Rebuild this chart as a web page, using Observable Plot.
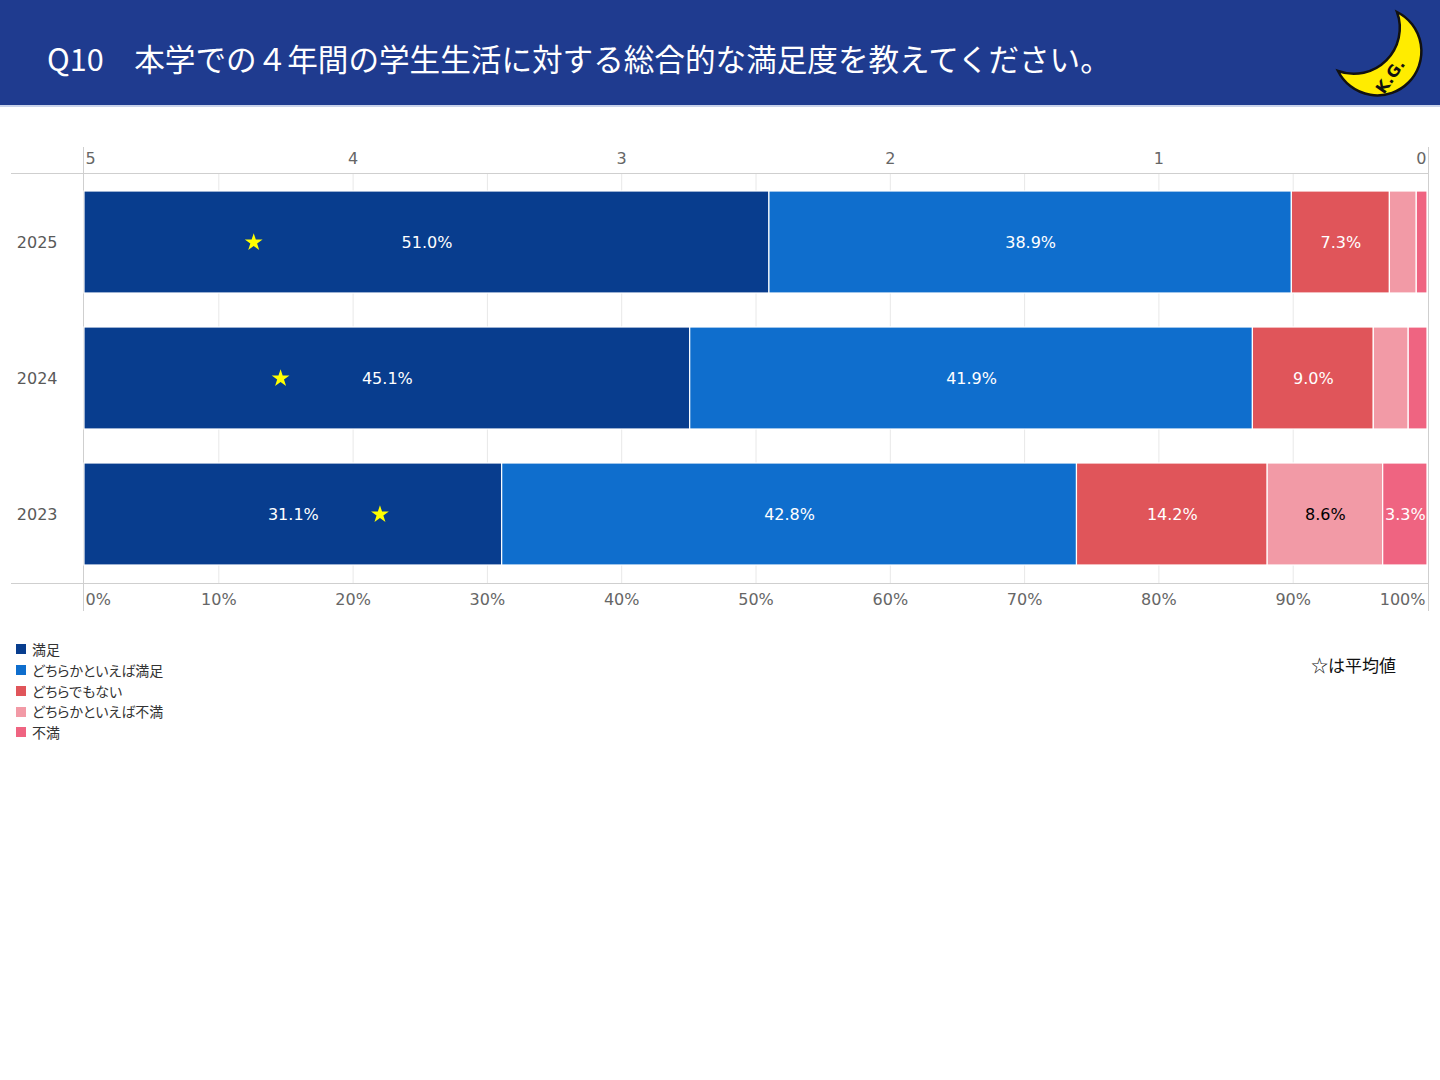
<!DOCTYPE html>
<html><head><meta charset="utf-8">
<script src="https://cdn.jsdelivr.net/npm/d3@7"></script>
<script src="https://cdn.jsdelivr.net/npm/@observablehq/plot@0.6"></script>
<style>
body{margin:0;width:1440px;height:1080px;background:#fff;font-family:"Noto Sans CJK JP","Noto Sans",sans-serif;position:relative;overflow:hidden}
#header{position:absolute;left:0;top:0;width:1440px;height:105px;background:#1f3b8f;border-bottom:2px solid #c9d3ea}
#title{position:absolute;left:47px;top:34px;color:#fff;font-size:30.6px;line-height:48px;white-space:nowrap}
#logo{position:absolute;left:1330px;top:5px}
#chart{position:absolute;left:0;top:140px}
#legend{position:absolute;left:16px;top:639px;font-size:14px;color:#333;font-feature-settings:"palt"}
.li{height:20.75px;line-height:20.75px;display:flex;align-items:center;white-space:nowrap}
.sw{width:10px;height:10px;margin-right:6px;flex:none}
#note{position:absolute;left:1311px;top:652px;font-size:17px;color:#111;white-space:nowrap}
</style></head>
<body>
<div id="header"><div id="title">Q10　本学での４年間の学生生活に対する総合的な満足度を教えてください。</div>
<svg id="logo" width="100" height="100" viewBox="0 0 100 100">
<path d="M67,7 A44,44 0 1,1 8,66 A46,46 0 0,0 67,7 Z" fill="#ffec00" stroke="#111" stroke-width="2.5"/>
<text x="54" y="90" transform="rotate(-55 54 90)" font-size="16" font-weight="bold" font-family="DejaVu Sans" fill="#111">K.G.</text>
</svg>
</div>
<div id="chart"></div>
<div id="legend"></div>
<div id="note">☆は平均値</div>
<script>
const years = ["2025", "2024", "2023"];
const categories = ["満足", "どちらかといえば満足", "どちらでもない", "どちらかといえば不満", "不満"];
const colors = ["#083d8e", "#0f6ecd", "#e0555a", "#f29aa6", "#ef6481"];
const satisfied = [51.0, 45.1, 31.1];
const somewhatSatisfied = [38.9, 41.9, 42.8];
const neutral = [7.3, 9.0, 14.2];
const somewhatDissatisfied = [2.0, 2.6, 8.6];
const dissatisfied = [0.8, 1.4, 3.3];
const averages = [4.37, 4.27, 3.90];
const topTickValues = [0, 20, 40, 60, 80, 100];
const topTickLabels = ["5", "4", "3", "2", "1", "0"];
const bottomTicks = [0, 10, 20, 30, 40, 50, 60, 70, 80, 90, 100];

const series = [satisfied, somewhatSatisfied, neutral, somewhatDissatisfied, dissatisfied];
const rows = [];
years.forEach((y, i) => categories.forEach((c, j) => rows.push({year: y, cat: c, value: series[j][i]})));
const avgRows = years.map((y, i) => ({year: y, avg: averages[i]}));

const numFont = '"DejaVu Sans", Verdana, sans-serif';
const fmt = v => v.toFixed(1) + "%";
const topFmt = d => topTickLabels[topTickValues.indexOf(d)];
const axisStyle = {tickSize: 0, fontSize: 16, fill: "#666", stroke: null, label: null, fontFamily: numFont};

const chart = Plot.plot({
  width: 1440, height: 490,
  marginLeft: 84, marginRight: 13, marginTop: 33, marginBottom: 47,
  style: {fontFamily: numFont, background: "transparent"},
  x: {domain: [0, 100], axis: null, label: null},
  y: {domain: years, paddingInner: 0.25, paddingOuter: 0.125, axis: null, label: null},
  color: {domain: categories, range: colors},
  marks: [
    Plot.gridX([10, 20, 30, 40, 50, 60, 70, 80, 90], {stroke: "#e8e8e8", strokeOpacity: 1}),
    Plot.frame({anchor: "top", stroke: "#cfcfcf", insetLeft: -73, insetRight: -1}),
    Plot.frame({anchor: "bottom", stroke: "#cfcfcf", insetLeft: -73, insetRight: -1}),
    Plot.frame({anchor: "left", stroke: "#cfcfcf", insetTop: -26, insetBottom: -27, insetLeft: -1}),
    Plot.frame({anchor: "right", stroke: "#cfcfcf", insetTop: -26, insetBottom: -27, insetRight: -1}),
    Plot.barX(rows, Plot.stackX({x: "value", y: "year", fill: "cat", stroke: "white", strokeWidth: 1.2})),
    Plot.text(rows, Plot.stackX({x: "value", y: "year", z: "cat",
      text: d => (d.value >= 3 && d.cat !== "どちらかといえば不満") ? fmt(d.value) : null,
      fill: "white", fontSize: 16, fontFamily: numFont})),
    Plot.text(rows, Plot.stackX({x: "value", y: "year", z: "cat",
      text: d => (d.value >= 3 && d.cat === "どちらかといえば不満") ? fmt(d.value) : null,
      fill: "black", fontSize: 16, fontFamily: numFont})),
    Plot.dot(avgRows, {x: d => (5 - d.avg) * 20, y: "year", symbol: "star", r: 5.6, fill: "#ffff00", stroke: null}),
    Plot.axisY({...axisStyle, tickPadding: 27, fill: "#595959"}),
    Plot.axisX([0], {...axisStyle, anchor: "top", tickPadding: 10, textAnchor: "start", dx: 1, tickFormat: topFmt}),
    Plot.axisX(topTickValues.slice(1, -1), {...axisStyle, anchor: "top", tickPadding: 10, tickFormat: topFmt}),
    Plot.axisX([100], {...axisStyle, anchor: "top", tickPadding: 10, textAnchor: "end", dx: -1, tickFormat: topFmt}),
    Plot.axisX([0], {...axisStyle, anchor: "bottom", tickPadding: 10, textAnchor: "start", dx: 1, tickFormat: d => d + "%"}),
    Plot.axisX(bottomTicks.slice(1, -1), {...axisStyle, anchor: "bottom", tickPadding: 10, tickFormat: d => d + "%"}),
    Plot.axisX([100], {...axisStyle, anchor: "bottom", tickPadding: 10, textAnchor: "end", dx: -2, tickFormat: d => d + "%"})
  ]
});
document.getElementById("chart").appendChild(chart);

const legend = document.getElementById("legend");
categories.forEach((c, i) => {
  const row = document.createElement("div");
  row.className = "li";
  row.innerHTML = `<span class="sw" style="background:${colors[i]}"></span><span>${c}</span>`;
  legend.appendChild(row);
});
</script>
</body></html>
